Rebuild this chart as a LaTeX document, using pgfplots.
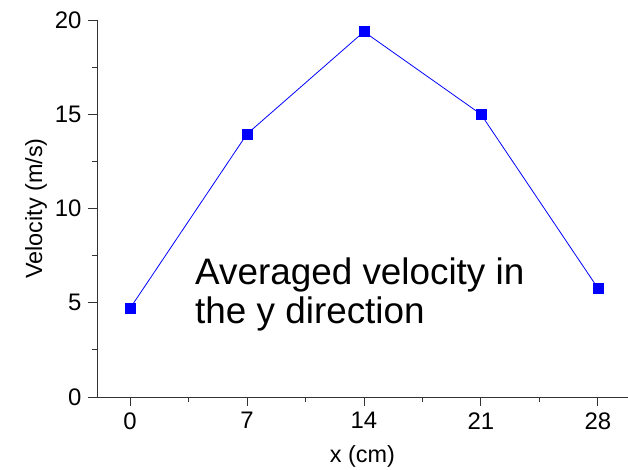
\documentclass[border=0pt]{standalone}
\usepackage{pgfplots}
\pgfplotsset{compat=1.18}
\usepackage{fontspec}
\setmainfont{Liberation Sans}
\begin{document}
\begin{tikzpicture}
\begin{axis}[
  scale only axis,
  width=531bp, height=377bp,
  xmin=-1.975, xmax=29.8,
  ymin=0, ymax=20,
  axis x line*=bottom, axis y line*=left,
  axis line style={-, black!80, line width=0.9pt},
  every tick/.style={black!80, line width=0.9pt},
  tick align=outside,
  major tick length=9bp, minor tick length=5bp,
  xtick={0,7,14,21,28}, ytick={0,5,10,15,20},
  minor x tick num=1, minor y tick num=1,
  /pgf/number format/assume math mode=true,
  tick label style={font=\fontsize{24}{28}\selectfont},
  yticklabel style={xshift=-3bp},
  xticklabel style={yshift=-3bp},
  xlabel={x (cm)}, ylabel={Velocity (m/s)},
  label style={font=\fontsize{23.5}{27}\selectfont},
  xlabel style={at={(axis description cs:0.5,0)}, anchor=base, inner sep=0pt, yshift=-65bp},
  ylabel style={at={([xshift=-72bp]axis description cs:0,0.5)}, anchor=north, inner sep=0pt},
  clip=false,
]
\addplot[color=blue, line width=0.8pt, mark=square*, mark size=5bp, mark options={fill=blue, draw=blue}]
  coordinates {(0,4.7) (7,13.95) (14,19.38) (21,15.0) (28,5.77)};
\node[anchor=north west, align=left, inner sep=0pt, font=\fontsize{37}{39}\selectfont]
  at (axis cs:3.89,7.40) {Averaged velocity in\\the y direction};
\end{axis}
\pgfresetboundingbox
\path (-97bp,-73bp) rectangle (531bp,397bp);
\end{tikzpicture}
\end{document}
